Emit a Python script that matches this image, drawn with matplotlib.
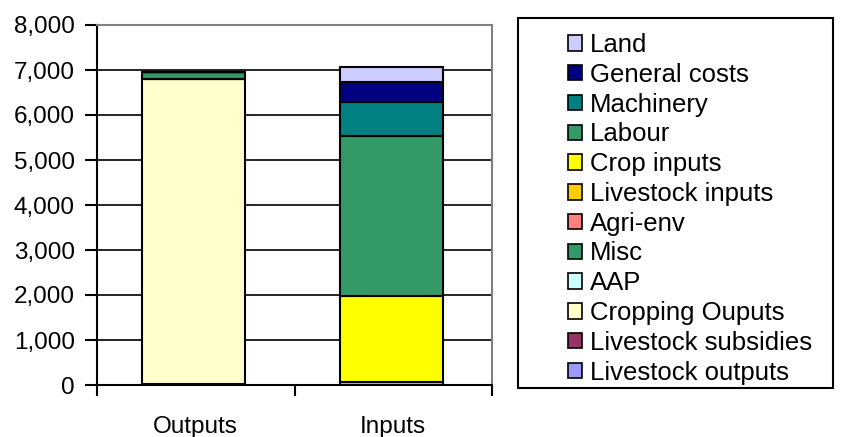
import matplotlib
matplotlib.use("Agg")
import matplotlib.pyplot as plt
from matplotlib.patches import Rectangle
from matplotlib.ticker import FuncFormatter, FixedLocator
import numpy as np

plt.rcParams['font.family'] = ['Liberation Sans', 'DejaVu Sans']

categories = ["Outputs", "Inputs"]
series_names = ["Livestock outputs", "Livestock subsidies", "Cropping Ouputs", "AAP",
                "Misc", "Agri-env", "Livestock inputs", "Crop inputs", "Labour",
                "Machinery", "General costs", "Land"]
outputs_vals = [20, 10, 6770, 0, 160, 0, 0, 0, 0, 0, 0, 0]
inputs_vals = [0, 0, 0, 0, 0, 0, 70, 1914, 3556, 742, 458, 320]
colors = ["#9999FF", "#993366", "#FFFFCC", "#CCFFFF", "#339966", "#FF8080",
          "#FFCC00", "#FFFF00", "#339966", "#008080", "#000080", "#CCCCFF"]
yticks = [0, 1000, 2000, 3000, 4000, 5000, 6000, 7000, 8000]

W, H = 843, 437
fig = plt.figure(figsize=(W / 100, H / 100), dpi=100)
ax = fig.add_axes([97 / W, 1 - 385 / H, (492 - 97) / W, (385 - 25) / H])

x = np.arange(len(categories))
bottom = np.zeros(len(categories))
handles = []
for name, ov, iv, c in zip(series_names, outputs_vals, inputs_vals, colors):
    vals = np.array([ov, iv], dtype=float)
    b = ax.bar(x - 0.01, vals, width=0.52, bottom=bottom, color=c, edgecolor="black",
               linewidth=1.5, label=name, zorder=3)
    handles.append(b)
    bottom += vals

ax.set_xlim(-0.5, 1.5)
ax.set_ylim(0, 8000)
ax.set_yticks(yticks)
ax.yaxis.set_major_formatter(FuncFormatter(lambda v, p: f"{int(v):,}"))
ax.yaxis.grid(True, color="black", linewidth=1.2, zorder=0)
ax.set_axisbelow(True)

ax.set_xticks(x)
ax.set_xticklabels(categories)
ax.xaxis.set_minor_locator(FixedLocator([-0.5, 0.5, 1.5]))
ax.tick_params(axis="x", which="major", length=0, pad=22, labelsize=17.5)
ax.tick_params(axis="x", which="minor", length=8, width=1.5, direction="out")
ax.tick_params(axis="y", length=9, width=1.5, direction="out", labelsize=17.5, pad=7)

for s in ["top", "right"]:
    ax.spines[s].set_color("#808080")
    ax.spines[s].set_linewidth(1.5)
for s in ["left", "bottom"]:
    ax.spines[s].set_color("black")
    ax.spines[s].set_linewidth(1.5)

# legend frame
fig.patches.append(Rectangle((518 / W, 1 - 388 / H), (833 - 518) / W, (388 - 18) / H,
                             transform=fig.transFigure, facecolor="white",
                             edgecolor="black", linewidth=1.5, zorder=0))
leg = fig.legend(handles[::-1], series_names[::-1], loc="upper left",
                 bbox_to_anchor=(550 / W, 1 - 15 / H), frameon=False,
                 fontsize=18.5, handlelength=0.55, handleheight=0.55,
                 handletextpad=0.3, labelspacing=0.225, borderpad=0.2)
for h in leg.legend_handles:
    h.set_linewidth(1.2)

fig.savefig("out.png", dpi=100)
